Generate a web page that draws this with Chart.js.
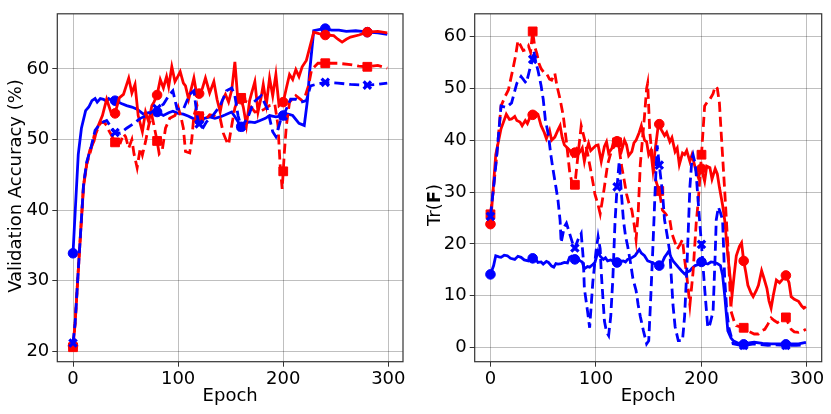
<!DOCTYPE html>
<html>
<head>
<meta charset="utf-8">
<script src="https://cdn.jsdelivr.net/npm/chart.js@4.4.1/dist/chart.umd.min.js"></script>
<style>
  html, body { margin: 0; padding: 0; background: #fff; }
  #wrap { position: relative; width: 831px; height: 414px; }
  canvas { position: absolute; top: 0; }
  #accCanvas { left: 0; }
  #trCanvas { left: 415px; }
</style>
</head>
<body>
<div id="wrap">
  <canvas id="accCanvas" width="415" height="414"></canvas>
  <canvas id="trCanvas" width="416" height="414"></canvas>
</div>
<script>
// tick labels
var epochTicks = [0, 100, 200, 300];
var accTicks = [20, 30, 40, 50, 60];
var trTicks = [0, 10, 20, 30, 40, 50, 60];

// validation accuracy (%), [epoch, value]
var accBlueSolid = [[0,33.9],[2,39.6],[5,47.9],[8,51.6],[12,54.1],[15,54.6],[18,55.5],[21,55.8],[23,55.3],[26,55.8],[29,55.7],[32,55.4],[34,55.8],[37,55.5],[40,55.5],[46,55.1],[51,54.8],[56,54.6],[61,54.3],[67,53.6],[72,53.8],[76,53.9],[80,53.9],[86,53.4],[91,53.8],[95,54.0],[100,53.7],[105,53.6],[110,53.3],[114,53.0],[120,52.7],[125,53.0],[130,53.2],[135,53.0],[140,53.2],[145,53.5],[151,53.9],[155,53.0],[160,51.8],[164,52.3],[168,52.5],[173,52.4],[178,52.7],[183,53.0],[187,53.4],[193,53.2],[200,53.4],[205,53.6],[209,53.4],[215,52.3],[220,52.0],[223,55.5],[225,59.4],[229,65.4],[235,65.6],[240,65.7],[246,65.5],[253,65.5],[260,65.3],[269,65.4],[275,65.3],[280,65.2],[290,65.1],[299,64.9]];
var accRedSolid = [[0,20.8],[2,24],[4,29],[7,36.3],[10,43.3],[13,46.5],[16,48.5],[20,49.8],[23,51.6],[28,53.4],[32,55.7],[36,53.9],[40,53.7],[44,55.9],[48,56.4],[53,58.7],[56,56.6],[59,57.8],[62,53.4],[66,51.1],[69,53.9],[72,52.5],[75,54.8],[77,55.3],[80,56.3],[83,58.5],[86,57.3],[89,58.9],[91,57.5],[94,60.3],[97,58.2],[100,59.0],[102,59.6],[105,58.0],[107,57.6],[110,55.7],[115,58.7],[117,57.0],[120,56.5],[123,57.2],[126,58.7],[130,56.6],[134,58.2],[137,55.7],[140,53.9],[142,55.5],[145,56.4],[148,55.3],[151,57.0],[154,61.0],[157,55.3],[160,55.7],[162,54.6],[165,52.0],[168,55.5],[170,56.6],[173,58.2],[176,53.9],[179,56.0],[181,57.8],[184,55.0],[187,58.7],[190,56.2],[193,59.2],[196,54.8],[200,55.3],[203,57.3],[206,59.2],[209,58.5],[212,59.9],[215,58.9],[218,60.3],[222,61.2],[225,62.9],[229,65.2],[234,65.0],[240,64.8],[248,64.7],[252,64.2],[256,63.8],[260,64.2],[264,64.5],[272,64.8],[280,65.2],[290,65.3],[299,65.1]];
var accRedDashed = [[0,20.6],[2,24],[4,29],[7,36.3],[10,43.6],[13,46.5],[17,48.5],[20,50.5],[23,51.3],[26,52.3],[29,52.5],[32,52.0],[34,51.3],[37,50.5],[40,49.6],[45,49.5],[48,50.8],[50,50.4],[53,48.8],[56,50.0],[58,48.0],[61,46.0],[64,48.8],[66,47.8],[69,49.7],[72,52.0],[75,53.4],[77,52.0],[80,49.8],[82,48.0],[85,48.6],[88,51.6],[92,53.0],[97,53.4],[100,54.6],[103,53.0],[105,51.6],[107,48.3],[111,48.1],[113,50.0],[115,53.4],[118,54.8],[120,53.3],[124,53.5],[127,53.0],[130,53.5],[134,53.4],[140,53.0],[143,50.9],[146,49.8],[148,49.3],[151,52.0],[154,54.5],[157,55.7],[160,55.9],[163,55.5],[166,55.3],[170,54.5],[173,53.9],[178,54.0],[182,54.3],[187,54.8],[192,55.0],[195,52.0],[197,46.5],[199,43.0],[200,45.5],[201,48.0],[203,52.0],[206,55.3],[212,56.2],[218,55.5],[221,56.2],[224,57.6],[227,59.9],[233,60.8],[240,60.8],[252,60.8],[264,60.6],[272,60.4],[280,60.3],[290,60.5],[299,60.1]];
var accBlueDashed = [[0,21.2],[2,24],[4,29],[7,36.3],[10,43.6],[13,46.8],[17,48.8],[21,51.3],[26,52.3],[32,52.7],[36,51.8],[40,51.0],[45,50.9],[51,51.6],[58,52.3],[64,53.0],[70,53.4],[77,54.1],[80,54.4],[86,55.0],[91,56.2],[95,56.9],[99,54.3],[105,54.3],[111,56.4],[115,56.9],[118,53.4],[120,52.2],[123,51.5],[127,52.5],[133,53.4],[140,54.8],[146,56.9],[151,57.3],[154,56.2],[157,53.4],[160,51.8],[166,53.0],[172,55.3],[179,56.2],[185,54.3],[190,51.1],[193,50.4],[198,53.0],[200,53.3],[207,55.7],[212,55.7],[217,55.3],[222,55.5],[226,57.6],[231,57.8],[240,58.1],[252,58.0],[264,57.8],[280,57.7],[290,57.8],[299,58.0]];

// trace of the Fisher information, [epoch, value]
var trRedSolid = [[0,23.8],[2,29],[5,37.2],[10,42.2],[15,45.0],[18,44.0],[20,44.1],[23,44.6],[25,43.8],[28,43.5],[30,42.8],[33,43.8],[35,43.2],[38,44.7],[40,44.9],[43,45.3],[45,45.0],[48,42.8],[51,41.5],[53,40.3],[56,41.9],[58,40.0],[61,40.6],[64,42.0],[66,42.8],[68,40.5],[70,39.1],[73,38.5],[75,38.1],[78,37.0],[80,37.6],[82,38.4],[85,37.8],[87,38.5],[89,35.9],[91,38.0],[93,39.4],[95,38.0],[97,38.4],[100,39.0],[102,39.1],[104,37.0],[105,35.9],[108,38.8],[110,39.7],[112,37.5],[115,38.4],[117,40.0],[120,39.8],[122,38.5],[124,37.8],[127,40.0],[129,39.1],[131,37.0],[134,37.8],[136,39.5],[138,40.0],[141,41.5],[143,42.8],[146,40.0],[148,39.7],[150,37.2],[152,38.0],[154,34.3],[156,38.0],[159,42.8],[160,43.1],[162,42.0],[165,40.9],[167,41.5],[170,39.7],[172,40.5],[175,37.8],[177,38.5],[179,35.3],[182,37.5],[184,37.2],[186,38.0],[189,35.9],[191,37.2],[194,34.7],[197,32.8],[200,34.5],[203,32.1],[205,35.0],[208,34.7],[210,32.5],[213,34.5],[215,33.5],[217,30.9],[220,27.5],[222,24.6],[225,17.7],[229,10.1],[231,14.0],[233,17.7],[236,19.5],[238,20.2],[240,16.7],[242,14.5],[244,12.0],[247,10.5],[249,9.8],[252,11.0],[254,12.0],[257,14.8],[259,13.5],[262,11.4],[264,9.0],[266,7.6],[268,10.0],[271,13.0],[274,12.5],[277,13.2],[280,13.9],[283,12.5],[285,9.8],[288,9.3],[292,8.9],[295,8.0],[297,7.6],[299,7.9]];
var trRedDashed = [[0,25.7],[3,31],[6,37.2],[10,46.6],[14,48.5],[17,49.7],[21,53.5],[24,56.5],[26,59.2],[28,58.5],[31,57.3],[34,57.5],[36,58.2],[38,57.0],[40,61.0],[42,58.0],[44,56.7],[46,54.8],[48,53.8],[51,53.0],[53,52.9],[56,51.8],[58,51.6],[61,52.9],[63,50.5],[66,47.9],[69,44.7],[72,39.7],[75,34.0],[77,32.0],[80,31.4],[83,37.2],[86,42.8],[89,40.3],[92,37.5],[94,35.3],[97,32.0],[99,29.6],[102,27.5],[104,25.8],[107,29.6],[111,35.3],[114,37.5],[116,38.4],[120,39.6],[122,38.5],[124,35.3],[127,32.0],[129,29.6],[131,28.0],[134,26.5],[136,24.0],[138,20.8],[140,26.0],[142,35.3],[144,40.0],[146,44.7],[148,50.0],[149,51.0],[151,41.6],[154,35.3],[157,32.0],[160,30.2],[163,26.5],[166,25.8],[170,24.6],[172,22.0],[175,20.2],[177,19.0],[179,19.6],[182,20.8],[184,17.0],[186,13.9],[189,8.2],[192,14.5],[195,24.0],[197,28.4],[200,37.2],[203,46.6],[206,47.5],[208,47.9],[211,49.0],[213,50.4],[215,50.0],[217,47.2],[219,40.3],[222,30.3],[225,19.6],[228,7.0],[231,5.0],[233,4.2],[236,4.0],[240,3.8],[244,3.2],[247,2.9],[250,2.6],[254,2.6],[257,3.2],[260,3.5],[263,4.5],[266,5.7],[269,5.2],[272,4.8],[276,5.3],[280,5.8],[282,4.8],[285,3.5],[288,3.0],[292,2.9],[296,3.2],[299,3.5]];
var trBlueDashed = [[0,25.3],[3,31],[6,37.2],[10,46.6],[15,46.3],[20,47.2],[25,51.0],[29,52.3],[32,51.5],[34,51.0],[37,53.5],[40,55.6],[41,57.3],[43,55.0],[45,53.5],[48,50.5],[50,47.9],[52,44.0],[55,40.9],[57,37.5],[59,34.7],[62,31.0],[64,28.4],[66,24.5],[67,20.2],[70,23.3],[72,24.0],[75,22.0],[78,20.0],[80,19.2],[83,20.8],[86,22.0],[88,17.0],[89,11.4],[92,7.0],[94,3.8],[97,12.6],[100,18.5],[102,21.4],[104,19.0],[105,14.5],[108,5.1],[110,3.0],[112,2.3],[114,6.0],[116,13.3],[118,24.0],[120,31.0],[122,35.9],[124,30.0],[126,24.6],[128,21.5],[130,19.6],[133,16.0],[135,13.3],[138,11.0],[140,8.2],[142,6.0],[145,3.2],[148,0.7],[150,1.3],[152,10.0],[154,19.6],[156,30.0],[158,39.0],[160,35.2],[163,30.0],[165,24.6],[168,21.0],[170,18.3],[173,8.2],[175,4.0],[178,1.3],[182,1.3],[184,6.0],[186,14.5],[189,30.9],[191,36.5],[192,37.2],[194,35.5],[195,33.4],[198,25.0],[200,19.9],[203,11.4],[206,3.8],[208,4.5],[211,7.0],[213,18.0],[214,24.6],[216,27.1],[218,26.0],[220,24.6],[222,13.3],[224,7.0],[226,3.8],[230,0.7],[235,0.5],[240,0.4],[250,0.7],[263,0.4],[270,0.5],[280,0.4],[290,0.4],[299,0.5]];
var trBlueSolid = [[0,14.1],[3,15.8],[5,17.7],[8,17.5],[10,17.4],[13,17.8],[16,17.7],[19,17.2],[23,17.0],[26,17.6],[29,17.4],[32,16.9],[36,16.7],[38,17.3],[40,17.2],[43,17.0],[45,16.4],[48,16.5],[50,16.1],[53,16.6],[55,16.4],[58,15.7],[60,15.5],[62,16.2],[64,16.1],[67,16.2],[70,16.4],[73,16.3],[75,17.4],[77,17.6],[80,17.0],[82,17.2],[85,16.7],[87,16.5],[89,15.2],[92,15.6],[94,15.5],[97,16.0],[99,16.4],[102,18.6],[104,17.6],[107,17.0],[109,17.3],[111,16.7],[114,16.9],[116,16.7],[118,16.5],[120,16.4],[123,16.6],[126,16.7],[128,16.5],[130,17.0],[133,17.2],[137,17.7],[139,18.3],[141,18.9],[143,18.2],[146,17.7],[149,16.7],[152,16.5],[156,16.1],[160,15.8],[163,16.5],[165,17.4],[167,18.0],[169,18.6],[171,17.5],[173,16.7],[176,16.0],[178,15.5],[181,14.8],[184,14.2],[186,14.5],[189,14.8],[191,15.3],[194,15.8],[197,16.0],[200,16.5],[203,16.3],[206,16.1],[209,16.5],[212,16.4],[215,16.2],[218,15.8],[220,14.0],[222,10.1],[225,3.2],[228,1.8],[230,1.3],[236,0.7],[240,0.6],[245,0.9],[250,1.0],[258,0.8],[266,0.7],[275,0.7],[280,0.6],[285,0.7],[292,0.7],[299,1.0]];

var RED = "#ff0000";
var BLUE = "#0000ff";
var FONT = "'DejaVu Sans', sans-serif";

function toPoints(pairs) {
  return pairs.map(function (p) { return { x: p[0], y: p[1] }; });
}

// markers only every 40 epochs, like markevery
function markerRadius(r) {
  return function (ctx) {
    return ctx.raw && ctx.raw.x % 40 === 0 ? r : 0;
  };
}

function makeSet(pairs, color, dashed, marker) {
  var r = marker === "rect" ? 6.2 : marker === "crossRot" ? 5.2 : 4.8;
  return {
    data: toPoints(pairs),
    borderColor: color,
    backgroundColor: color,
    borderWidth: 2.8,
    borderDash: dashed ? [10, 5] : [],
    pointStyle: marker,
    pointRadius: markerRadius(r),
    pointHoverRadius: 0,
    pointBorderWidth: marker === "crossRot" ? 3.2 : 1,
    tension: 0,
  };
}

// full box around the plot area, plus axis titles
function decorPlugin(yParts, yTitleX, yTitleY) {
  return {
    id: "decor",
    afterDraw: function (chart) {
      var a = chart.chartArea;
      var ctx = chart.ctx;
      ctx.save();
      ctx.strokeStyle = "#333";
      ctx.lineWidth = 1.2;
      ctx.strokeRect(a.left, a.top, a.right - a.left, a.bottom - a.top);

      ctx.fillStyle = "#000";
      ctx.textBaseline = "middle";
      ctx.textAlign = "center";
      ctx.font = "18px " + FONT;
      ctx.fillText("Epoch", (a.left + a.right) / 2, 396);

      ctx.translate(yTitleX, yTitleY);
      ctx.rotate(-Math.PI / 2);
      ctx.textAlign = "left";
      var widths = yParts.map(function (p) {
        ctx.font = (p.bold ? "bold " : "") + "18px " + FONT;
        return ctx.measureText(p.text).width;
      });
      var total = widths.reduce(function (s, w) { return s + w; }, 0);
      var x = -total / 2;
      yParts.forEach(function (p, i) {
        ctx.font = (p.bold ? "bold " : "") + "18px " + FONT;
        ctx.fillText(p.text, x, 0);
        x += widths[i];
      });
      ctx.restore();
    },
  };
}

function makeOptions(yMin, yMax, yTicks, yWidth, padRight) {
  var tickFont = { family: FONT, size: 18 };
  var grid = { color: "rgba(0,0,0,0.25)", lineWidth: 1, tickColor: "#333", tickLength: 5 };
  return {
    responsive: false,
    animation: false,
    devicePixelRatio: 1,
    layout: { padding: { left: 0, top: 6, right: padRight, bottom: 0 } },
    plugins: { legend: { display: false }, tooltip: { enabled: false } },
    scales: {
      x: {
        type: "linear",
        min: -14.95,
        max: 313.95,
        afterBuildTicks: function (s) { s.ticks = epochTicks.map(function (v) { return { value: v }; }); },
        afterFit: function (s) { s.height = 52.3; },
        grid: grid,
        border: { display: false },
        ticks: { color: "#000", font: tickFont, padding: 2, maxRotation: 0, autoSkip: false },
      },
      y: {
        type: "linear",
        min: yMin,
        max: yMax,
        afterBuildTicks: function (s) { s.ticks = yTicks.map(function (v) { return { value: v }; }); },
        afterFit: function (s) { s.width = yWidth; },
        grid: grid,
        border: { display: false },
        ticks: { color: "#000", font: tickFont, padding: 3, autoSkip: false },
      },
    },
  };
}

new Chart(document.getElementById("accCanvas").getContext("2d"), {
  type: "line",
  data: {
    datasets: [
      makeSet(accBlueDashed, BLUE, true, "crossRot"),
      makeSet(accRedDashed, RED, true, "rect"),
      makeSet(accRedSolid, RED, false, "circle"),
      makeSet(accBlueSolid, BLUE, false, "circle"),
    ],
  },
  options: makeOptions(18.55, 67.8, accTicks, 57.3, 12),
  plugins: [decorPlugin([{ text: "Validation Accuracy (%)" }], 16, 186)],
});

new Chart(document.getElementById("trCanvas").getContext("2d"), {
  type: "line",
  data: {
    datasets: [
      makeSet(trBlueDashed, BLUE, true, "crossRot"),
      makeSet(trRedDashed, RED, true, "rect"),
      makeSet(trRedSolid, RED, false, "circle"),
      makeSet(trBlueSolid, BLUE, false, "circle"),
    ],
  },
  options: makeOptions(-2.75, 64.4, trTicks, 59.7, 9.3),
  plugins: [decorPlugin([{ text: "Tr(" }, { text: "F", bold: true }, { text: ")" }], 20, 205)],
});
</script>
</body>
</html>
